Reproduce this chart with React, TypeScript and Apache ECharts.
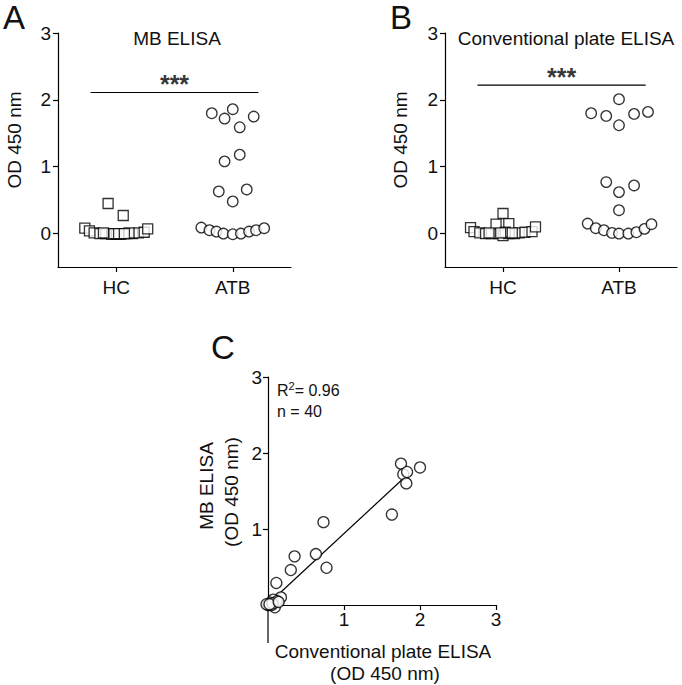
import React, { useEffect, useRef } from "react";
import * as echarts from "echarts";

const FONT = "'Liberation Sans', Arial, Helvetica, sans-serif";
const INK = "#111";

const categories = ["HC", "ATB"];
const yTicks = [0, 1, 2, 3];
const cTicks = [1, 2, 3];

// Panel A (MB ELISA) — x = category position (1 = HC, 2 = ATB) with jitter
const hcA_x = [0.93, 1.06, 0.73, 0.77, 0.81, 0.86, 0.91, 0.96, 1.0, 1.04, 1.09, 1.14, 1.19, 1.24, 1.27, 0.98, 1.02, 0.89, 1.11, 1.07];
const hcA_y = [0.45, 0.27, 0.08, 0.04, 0.01, 0.0, 0.0, -0.01, -0.01, -0.01, 0.0, 0.0, 0.01, 0.02, 0.07, 0.0, 0.0, 0.01, 0.01, 0.0];
const atbA_x = [1.82, 2.0, 1.93, 2.18, 2.06, 2.06, 1.93, 1.88, 2.12, 2.0, 1.73, 1.8, 1.86, 1.92, 2.0, 2.07, 2.14, 2.2, 2.27];
const atbA_y = [1.8, 1.86, 1.72, 1.75, 1.59, 1.18, 1.08, 0.63, 0.66, 0.48, 0.09, 0.05, 0.03, 0.0, -0.01, 0.0, 0.03, 0.05, 0.08];

// Panel B (Conventional plate ELISA)
const hcB_x = [0.72, 0.75, 0.8, 0.85, 0.9, 0.94, 0.96, 1.0, 1.0, 1.05, 1.05, 1.1, 1.14, 1.19, 1.25, 1.28, 1.02, 0.98, 1.08, 0.88];
const hcB_y = [0.09, 0.03, 0.01, 0.0, 0.0, 0.14, 0.0, 0.3, -0.03, 0.15, 0.0, 0.0, 0.01, 0.02, 0.03, 0.1, 0.02, 0.01, 0.01, 0.01];
const atbB_x = [2.0, 1.76, 1.89, 2.0, 2.13, 2.25, 1.89, 2.0, 2.13, 2.0, 1.73, 1.8, 1.87, 1.94, 2.0, 2.08, 2.15, 2.22, 2.28];
const atbB_y = [2.01, 1.8, 1.76, 1.62, 1.79, 1.82, 0.77, 0.62, 0.72, 0.35, 0.15, 0.08, 0.05, 0.01, 0.0, 0.0, 0.02, 0.07, 0.14];

// Significance bars
const sigA_x = [0.78, 2.22];
const sigA_y = 2.11;
const sigB_x = [0.78, 2.23];
const sigB_y = 2.22;

// Panel C: conventional (x) vs MB (y)
const corr_x = [1.75, 1.78, 1.83, 2.0, 1.82, 1.63, 0.73, 0.63, 0.35, 0.3, 0.77, 0.11, 0.17, 0.07, 0.03, 0.0, 0.01, 0.09, 0.05, -0.02, 0.12, 0.06, 0.02, 0.14];
const corr_y = [1.86, 1.72, 1.75, 1.81, 1.6, 1.19, 1.09, 0.67, 0.64, 0.46, 0.49, 0.29, 0.1, 0.07, 0.03, 0.0, -0.0, -0.03, 0.0, 0.01, 0.05, 0.02, 0.01, 0.04];
const regLine_x = [0.1, 1.83];
const regLine_y = [0.105, 1.71];
// axes of panel C extend below zero to -0.5
const cAxisLow = -0.5;

const zip = (xs: number[], ys: number[]) => xs.map((x, i) => [x, ys[i]]);

const lineStyle = { color: "#000", width: 1.2 };
const markerStyle = { color: "#fff", borderColor: "#000", borderWidth: 1.3 };

function catXAxis(gridIndex: number) {
  return {
    gridIndex,
    type: "value",
    min: 0.5,
    max: 2.5,
    splitLine: { show: false },
    axisLine: { show: true, onZero: false, lineStyle },
    axisTick: { show: true, customValues: [1, 2], length: 5, lineStyle },
    axisLabel: {
      customValues: [1, 2],
      formatter: (v: number) => categories[Math.round(v) - 1],
      fontSize: 19,
      fontFamily: FONT,
      color: INK,
      margin: 11,
    },
  };
}

function odYAxis(gridIndex: number) {
  return {
    gridIndex,
    type: "value",
    min: -0.5,
    max: 3,
    splitLine: { show: false },
    axisLine: { show: true, lineStyle },
    axisTick: { show: true, customValues: yTicks, length: 5, lineStyle },
    axisLabel: {
      customValues: yTicks,
      fontSize: 19,
      fontFamily: FONT,
      color: INK,
      margin: 7,
    },
  };
}

function cAxis(gridIndex: number, margin: number) {
  return {
    gridIndex,
    type: "value",
    min: 0,
    max: 3,
    splitLine: { show: false },
    axisLine: { show: true, onZero: false, lineStyle },
    axisTick: { show: true, customValues: cTicks, length: 5, lineStyle },
    axisLabel: { customValues: cTicks, fontSize: 19, fontFamily: FONT, color: INK, margin },
  };
}

function sigSeries(idx: number, xs: number[], y: number) {
  return [
    {
      type: "line",
      xAxisIndex: idx,
      yAxisIndex: idx,
      data: [[xs[0], y], [xs[1], y]],
      symbol: "none",
      lineStyle,
      silent: true,
    },
    {
      type: "scatter",
      xAxisIndex: idx,
      yAxisIndex: idx,
      data: [[(xs[0] + xs[1]) / 2, y]],
      symbolSize: 0,
      label: {
        show: true,
        formatter: "***",
        position: "top",
        distance: -4,
        fontSize: 25,
        fontWeight: "bold",
        fontFamily: FONT,
        color: "#000",
      },
    },
  ];
}

export default function App() {
  const ref = useRef<HTMLDivElement>(null);

  useEffect(() => {
    if (!ref.current) return;
    const chart = echarts.init(ref.current, null, { renderer: "svg" });
    const txt = (text: string, x: number, y: number, size: number, extra: any = {}) => ({
      type: "text",
      x,
      y,
      ...extra,
      style: {
        text,
        fontSize: size,
        fontFamily: FONT,
        fill: INK,
        align: "center",
        verticalAlign: "middle",
        ...(extra.style || {}),
      },
    });

    chart.setOption({
      animation: false,
      backgroundColor: "#fff",
      grid: [
        { left: 58, top: 33, width: 233, height: 234 },
        { left: 445, top: 33, width: 232, height: 234 },
        { left: 268, top: 377, width: 228, height: 228 },
      ],
      xAxis: [catXAxis(0), catXAxis(1), cAxis(2, 5)],
      yAxis: [odYAxis(0), odYAxis(1), cAxis(2, 6)],
      series: [
        { type: "scatter", xAxisIndex: 0, yAxisIndex: 0, data: zip(hcA_x, hcA_y), symbol: "rect", symbolSize: 10, itemStyle: markerStyle },
        { type: "scatter", xAxisIndex: 0, yAxisIndex: 0, data: zip(atbA_x, atbA_y), symbol: "circle", symbolSize: 10.5, itemStyle: markerStyle },
        ...sigSeries(0, sigA_x, sigA_y),
        { type: "scatter", xAxisIndex: 1, yAxisIndex: 1, data: zip(hcB_x, hcB_y), symbol: "rect", symbolSize: 10, itemStyle: markerStyle },
        { type: "scatter", xAxisIndex: 1, yAxisIndex: 1, data: zip(atbB_x, atbB_y), symbol: "circle", symbolSize: 10.5, itemStyle: markerStyle },
        ...sigSeries(1, sigB_x, sigB_y),
        {
          type: "line",
          xAxisIndex: 2,
          yAxisIndex: 2,
          data: [[cAxisLow, 0], [0, 0]],
          symbol: "none",
          lineStyle,
          clip: false,
          silent: true,
        },
        {
          type: "line",
          xAxisIndex: 2,
          yAxisIndex: 2,
          data: [[0, cAxisLow], [0, 0]],
          symbol: "none",
          lineStyle,
          clip: false,
          silent: true,
        },
        {
          type: "line",
          xAxisIndex: 2,
          yAxisIndex: 2,
          data: zip(regLine_x, regLine_y),
          symbol: "none",
          lineStyle,
          z: 1,
        },
        { type: "scatter", xAxisIndex: 2, yAxisIndex: 2, data: zip(corr_x, corr_y), symbol: "circle", symbolSize: 11, itemStyle: markerStyle, z: 3, clip: false },
      ],
      graphic: [
        txt("A", 14, 17, 33),
        txt("B", 401, 17, 33),
        txt("C", 223, 347, 33),
        txt("MB ELISA", 177, 38, 19),
        txt("Conventional plate ELISA", 566, 38, 19),
        txt("OD 450 nm", 14, 140, 19, { rotation: Math.PI / 2 }),
        txt("OD 450 nm", 400, 140, 19, { rotation: Math.PI / 2 }),
        {
          type: "text",
          x: 277,
          y: 390,
          style: {
            text: "{a|R}{s|2}{a|= 0.96}",
            fontFamily: FONT,
            fill: INK,
            align: "left",
            verticalAlign: "middle",
            rich: {
              a: { fontSize: 16, fontFamily: FONT, fill: INK },
              s: { fontSize: 11, fontFamily: FONT, fill: INK, verticalAlign: "top", padding: [0, 0, 8, 0] },
            },
          },
        },
        txt("n = 40", 277, 411, 16, { style: { align: "left" } }),
        txt("MB ELISA", 206, 486, 19, { rotation: Math.PI / 2 }),
        txt("(OD 450 nm)", 231, 492, 19, { rotation: Math.PI / 2 }),
        txt("Conventional plate ELISA", 383, 651, 19),
        txt("(OD 450 nm)", 385, 673, 19),
      ],
    });
    return () => chart.dispose();
  }, []);

  return (
    <div
      ref={ref}
      style={{ position: "absolute", left: 0, top: 0, width: 682, height: 685, background: "#fff" }}
    />
  );
}
